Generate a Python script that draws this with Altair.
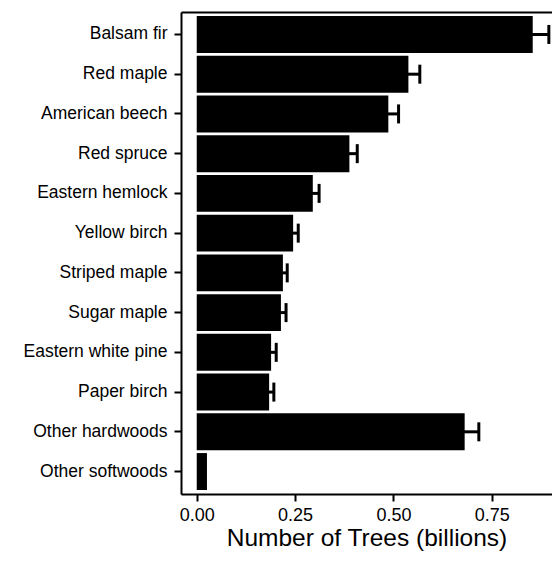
import altair as alt
import pandas as pd

# Tree counts by species group (billions) with standard errors
species = [
    "Balsam fir", "Red maple", "American beech", "Red spruce",
    "Eastern hemlock", "Yellow birch", "Striped maple", "Sugar maple",
    "Eastern white pine", "Paper birch", "Other hardwoods", "Other softwoods",
]
trees = [0.854, 0.538, 0.487, 0.388, 0.295, 0.245, 0.219, 0.214,
         0.189, 0.184, 0.681, 0.026]
errors = [0.041, 0.029, 0.026, 0.020, 0.016, 0.013, 0.011, 0.013,
          0.013, 0.012, 0.036, 0.0]
x_ticks = [0.0, 0.25, 0.5, 0.75]

df = pd.DataFrame({"species": species, "trees": trees, "err": errors})
df["lo"] = df["trees"] - df["err"]
df["hi"] = df["trees"] + df["err"]
eb = df[df["err"] > 0]

W, H = 371, 482
FONT = "Liberation Sans"

x_scale = alt.Scale(domain=[-0.040, 0.903], nice=False, zero=False)
y_scale = alt.Scale(domain=species, paddingInner=0.07, paddingOuter=0.1)

x_axis = alt.Axis(
    values=x_ticks, format=".2f", title="Number of Trees (billions)",
    grid=False, domainColor="black", domainWidth=2, tickColor="black",
    tickWidth=2, tickSize=7, labelPadding=5, labelFontSize=18,
    labelColor="black", labelFont=FONT, titleFont=FONT, titleFontSize=24.5,
    titleFontWeight="normal", titleColor="black", titlePadding=2,
)
y_axis = alt.Axis(
    title=None, grid=False, domainColor="black", domainWidth=2,
    tickColor="black", tickWidth=2, tickSize=7, labelPadding=7,
    labelFontSize=17.5, labelColor="black", labelFont=FONT, labelLimit=300,
)
# frame line along the top of the panel
top_axis = alt.Axis(
    orient="top", labels=False, ticks=False, title=None, grid=False,
    domainColor="black", domainWidth=2,
)

bars = alt.Chart(df).mark_bar(color="black").encode(
    x=alt.X("trees:Q", scale=x_scale, axis=x_axis),
    x2=alt.datum(0),
    y=alt.Y("species:N", scale=y_scale, axis=y_axis, sort=species),
)

err_base = alt.Chart(eb)

whisker = err_base.mark_rule(color="black", strokeWidth=3, opacity=1).encode(
    x=alt.X("lo:Q", scale=x_scale, axis=top_axis),
    x2="hi:Q",
    y=alt.Y("species:N", scale=y_scale, sort=species),
)

caps_hi = err_base.mark_tick(color="black", thickness=3, size=19, opacity=1,
                             orient="vertical").encode(
    x=alt.X("hi:Q", scale=x_scale, axis=None),
    y=alt.Y("species:N", scale=y_scale, sort=species),
)
caps_lo = err_base.mark_tick(color="black", thickness=3, size=19, opacity=1,
                             orient="vertical").encode(
    x=alt.X("lo:Q", scale=x_scale, axis=None),
    y=alt.Y("species:N", scale=y_scale, sort=species),
)

chart = (
    alt.layer(bars, whisker, caps_lo, caps_hi)
    .resolve_axis(x="independent")
    .properties(
        width=W, height=H,
        autosize=alt.AutoSizeParams(type="none"),
        padding={"left": 181, "top": 12, "right": 0, "bottom": 67},
    )
    .configure_view(stroke=None)
    .configure(background="white")
)

chart.save("out.html", embed_options={"renderer": "svg", "actions": False})
